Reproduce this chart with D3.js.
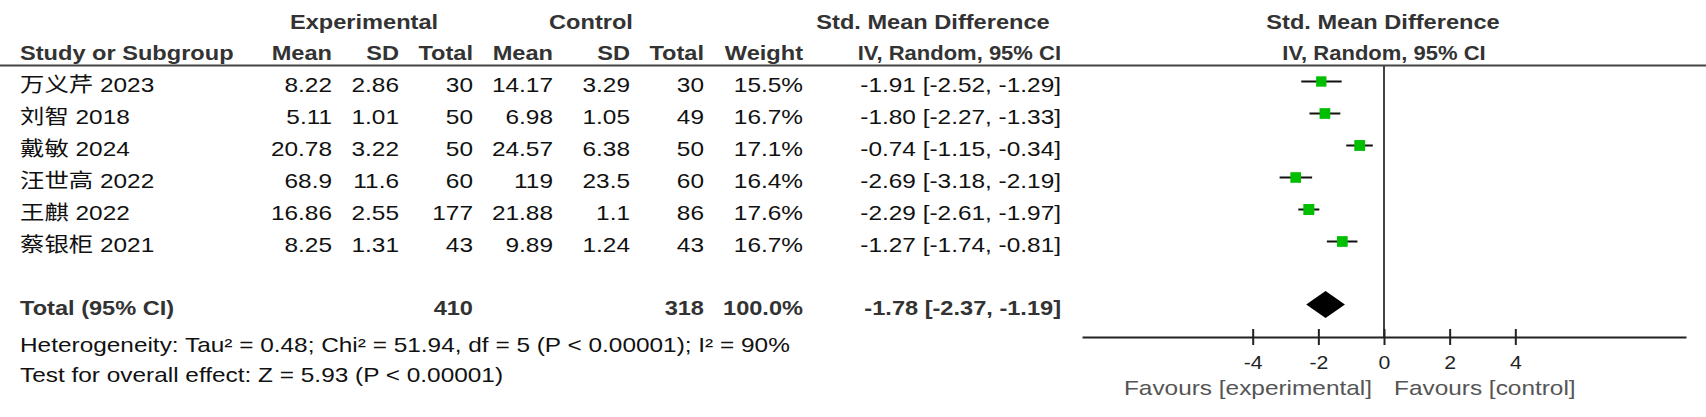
<!DOCTYPE html>
<html>
<head>
<meta charset="utf-8">
<script src="https://cdn.jsdelivr.net/npm/d3@7/dist/d3.min.js"></script>
<style>
  html, body { margin: 0; padding: 0; background: #fff; }
  svg { display: block; }
  text { font-family: "Liberation Sans", Arial, "Noto Sans CJK SC", sans-serif; }
</style>
</head>
<body>
<svg id="chart" width="1706" height="417"></svg>
<script>
// ---------- data ----------
const studies  = ["万义芹 2023", "刘智 2018", "戴敏 2024", "汪世高 2022", "王麒 2022", "蔡银柜 2021"];
const expMean  = [8.22, 5.11, 20.78, 68.9, 16.86, 8.25];
const expSD    = [2.86, 1.01, 3.22, 11.6, 2.55, 1.31];
const expN     = [30, 50, 50, 60, 177, 43];
const ctlMean  = [14.17, 6.98, 24.57, 119, 21.88, 9.89];
const ctlSD    = [3.29, 1.05, 6.38, 23.5, 1.1, 1.24];
const ctlN     = [30, 49, 50, 60, 86, 43];
const weights  = [15.5, 16.7, 17.1, 16.4, 17.6, 16.7];
const smd      = [-1.91, -1.80, -0.74, -2.69, -2.29, -1.27];
const ciLow    = [-2.52, -2.27, -1.15, -3.18, -2.61, -1.74];
const ciHigh   = [-1.29, -1.33, -0.34, -2.19, -1.97, -0.81];
const totalExpN = 410, totalCtlN = 318, totalWeight = 100.0;
const totalSMD = -1.78, totalLow = -2.37, totalHigh = -1.19;
const tickValues = [-4, -2, 0, 2, 4];
const heterogeneityText = "Heterogeneity: Tau\u00B2 = 0.48; Chi\u00B2 = 51.94, df = 5 (P < 0.00001); I\u00B2 = 90%";
const overallText = "Test for overall effect: Z = 5.93 (P < 0.00001)";
const favLeft = "Favours [experimental]", favRight = "Favours [control]";

// ---------- layout ----------
const SX_BOLD = 1.18;        // horizontal stretch of the original image
const SX_REG = 1.22;
const svg = d3.select("#chart");
const x = d3.scaleLinear().domain([-9.2, 9.2]).range([1082, 1686]);
const rowY = d3.scaleLinear().domain([0, studies.length - 1]).range([81.5, 241.5]);
const textDrop = 10.5;
const totalY = 304.5;
const axisY = 337;

function txt(str, px, py, opts = {}) {
  const sx = opts.sx || (opts.bold ? SX_BOLD : SX_REG);
  return svg.append("text")
    .attr("transform", `translate(${px},${py}) scale(${sx},1)`)
    .attr("text-anchor", opts.anchor || "start")
    .attr("font-size", opts.size || 20)
    .attr("font-weight", opts.bold ? "bold" : "normal")
    .attr("fill", opts.fill || "#111")
    .text(str);
}
const f2 = v => v.toFixed(2);
const ci = (m, l, h) => `${f2(m)} [${f2(l)}, ${f2(h)}]`;

// column right edges
const col = { study: 20, eMean: 332, eSD: 399, eN: 473, cMean: 553, cSD: 630, cN: 704, w: 803, ci: 1061 };

// headers
const H = { bold: true, fill: "#333" };
txt("Experimental", 364, 29, { ...H, anchor: "middle" });
txt("Control", 591, 29, { ...H, anchor: "middle" });
txt("Std. Mean Difference", 933, 29, { ...H, anchor: "middle" });
txt("Std. Mean Difference", 1383, 29, { ...H, anchor: "middle" });
txt("Study or Subgroup", col.study, 60, H);
txt("Mean", col.eMean, 60, { ...H, anchor: "end" });
txt("SD", col.eSD, 60, { ...H, anchor: "end" });
txt("Total", col.eN, 60, { ...H, anchor: "end" });
txt("Mean", col.cMean, 60, { ...H, anchor: "end" });
txt("SD", col.cSD, 60, { ...H, anchor: "end" });
txt("Total", col.cN, 60, { ...H, anchor: "end" });
txt("Weight", col.w, 60, { ...H, anchor: "end" });
txt("IV, Random, 95% CI", col.ci, 60, { ...H, anchor: "end", sx: 1.1 });
txt("IV, Random, 95% CI", 1384, 60, { ...H, anchor: "middle", sx: 1.1 });

svg.append("line").attr("x1", 0).attr("x2", 1706).attr("y1", 65.5).attr("y2", 65.5)
  .attr("stroke", "#444").attr("stroke-width", 2);

// study rows
studies.forEach((s, i) => {
  const by = rowY(i) + textDrop;
  txt(s, col.study, by);
  txt(String(expMean[i]), col.eMean, by, { anchor: "end" });
  txt(String(expSD[i]), col.eSD, by, { anchor: "end" });
  txt(String(expN[i]), col.eN, by, { anchor: "end" });
  txt(String(ctlMean[i]), col.cMean, by, { anchor: "end" });
  txt(String(ctlSD[i]), col.cSD, by, { anchor: "end" });
  txt(String(ctlN[i]), col.cN, by, { anchor: "end" });
  txt(weights[i].toFixed(1) + "%", col.w, by, { anchor: "end" });
  txt(ci(smd[i], ciLow[i], ciHigh[i]), col.ci, by, { anchor: "end" });
});

// total row
const ty = totalY + textDrop;
txt("Total (95% CI)", col.study, ty, H);
txt(String(totalExpN), col.eN, ty, { ...H, anchor: "end" });
txt(String(totalCtlN), col.cN, ty, { ...H, anchor: "end" });
txt(totalWeight.toFixed(1) + "%", col.w, ty, { ...H, anchor: "end" });
txt(ci(totalSMD, totalLow, totalHigh), col.ci, ty, { ...H, anchor: "end" });
txt(heterogeneityText, col.study, 352);
txt(overallText, col.study, 382);

// zero line
svg.append("line").attr("x1", x(0)).attr("x2", x(0)).attr("y1", 66).attr("y2", axisY)
  .attr("stroke", "#444").attr("stroke-width", 2);

// CI lines and squares
const g = svg.append("g");
g.selectAll("line.ci").data(studies).join("line").attr("class", "ci")
  .attr("x1", (d, i) => x(ciLow[i])).attr("x2", (d, i) => x(ciHigh[i]))
  .attr("y1", (d, i) => rowY(i)).attr("y2", (d, i) => rowY(i))
  .attr("stroke", "#111").attr("stroke-width", 2);
const side = w => 11 * Math.sqrt(w / 17.6);
g.selectAll("rect.sq").data(studies).join("rect").attr("class", "sq")
  .attr("x", (d, i) => x(smd[i]) - side(weights[i]) / 2)
  .attr("y", (d, i) => rowY(i) - side(weights[i]) / 2)
  .attr("width", (d, i) => side(weights[i]))
  .attr("height", (d, i) => side(weights[i]))
  .attr("fill", "#00bf00");

// diamond
const dh = 13.5;
svg.append("path")
  .attr("d", `M${x(totalLow)},${totalY} L${x(totalSMD)},${totalY - dh} L${x(totalHigh)},${totalY} L${x(totalSMD)},${totalY + dh} Z`)
  .attr("fill", "#000");

// axis
const axis = d3.axisBottom(x).tickValues(tickValues).tickSizeInner(8).tickSizeOuter(0).tickFormat(d => String(d));
const ag = svg.append("g").attr("transform", `translate(0,${axisY})`).call(axis);
ag.select(".domain").attr("stroke", "#222").attr("stroke-width", 2);
ag.selectAll(".tick line").attr("y1", -8).attr("y2", 8).attr("stroke", "#222").attr("stroke-width", 2);
ag.selectAll(".tick text").attr("y", 0).attr("dy", null)
  .attr("transform", `translate(0,32) scale(${SX_BOLD},1)`)
  .attr("font-size", 18).attr("fill", "#222")
  .attr("font-family", "\"Liberation Sans\", Arial, sans-serif");

txt(favLeft, x(0) - 12, 395, { anchor: "end", fill: "#555" });
txt(favRight, x(0) + 10, 395, { anchor: "start", fill: "#555" });
</script>
</body>
</html>
